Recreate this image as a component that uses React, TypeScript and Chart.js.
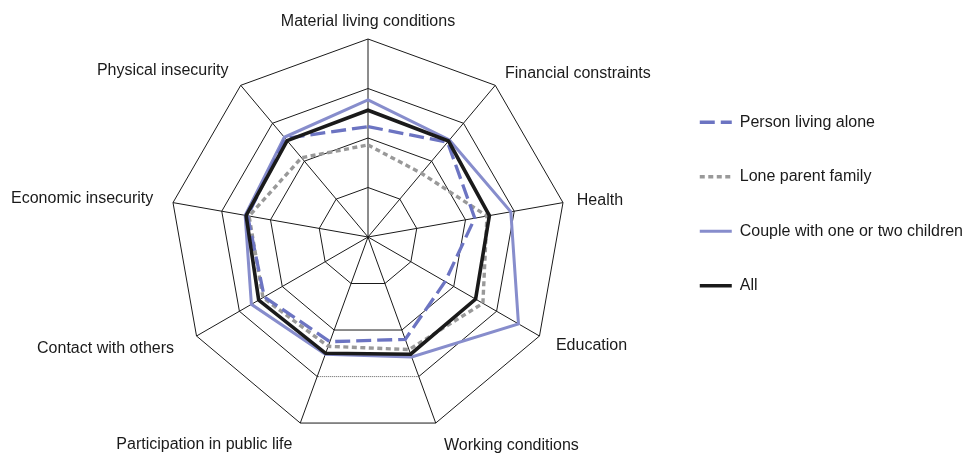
import React, { useEffect, useRef } from 'react';
import { Chart, registerables } from 'chart.js';

Chart.register(...registerables);

// ---- data ----
const categories = [
  'Material living conditions',
  'Financial constraints',
  'Health',
  'Education',
  'Working conditions',
  'Participation in public life',
  'Contact with others',
  'Economic insecurity',
  'Physical insecurity',
];
const seriesNames = ['Person living alone', 'Lone parent family', 'Couple with one or two children', 'All'];
const personAlone = [2.23, 2.5, 2.19, 1.8, 2.2, 2.25, 2.42, 2.47, 2.6];
const loneParent = [1.86, 1.68, 2.44, 2.68, 2.42, 2.35, 2.45, 2.44, 2.09];
const couple = [2.77, 2.56, 2.93, 3.51, 2.58, 2.52, 2.72, 2.52, 2.63];
const allHouseholds = [2.56, 2.53, 2.49, 2.51, 2.52, 2.5, 2.55, 2.5, 2.54];
const scaleMin = 0;
const scaleMax = 4;
const scaleStep = 1;

// ---- layout / style ----
const plotCenterX = 368;
const plotCenterY = 237;
const plotRadius = 198;
const labelPadding = [17, 15, 14, 19, 24, 23, 26, 20, 19];
const FONT = "'Liberation Sans', Arial, Helvetica, sans-serif";
const FONT_SIZE = 16;

export default function App() {
  const ref = useRef<HTMLCanvasElement>(null);

  useEffect(() => {
    if (!ref.current) return;

    const dottedRing = {
      id: 'dottedRing',
      beforeDatasetsDraw(chart: any) {
        const s = chart.scales.r;
        const a = s.getPointPositionForValue(4, 3);
        const b = s.getPointPositionForValue(5, 3);
        const ctx = chart.ctx;
        ctx.save();
        ctx.strokeStyle = '#ffffff';
        ctx.lineWidth = 2;
        ctx.beginPath();
        ctx.moveTo(a.x - 1, a.y);
        ctx.lineTo(b.x + 1, b.y);
        ctx.stroke();
        ctx.strokeStyle = '#666666';
        ctx.lineWidth = 1;
        ctx.setLineDash([1, 1]);
        ctx.beginPath();
        ctx.moveTo(a.x, a.y);
        ctx.lineTo(b.x, b.y);
        ctx.stroke();
        ctx.restore();
      },
    };

    const common = {
      fill: false,
      pointRadius: 0,
      pointHoverRadius: 0,
      backgroundColor: 'rgba(0,0,0,0)',
    };

    const chart = new Chart(ref.current, {
      type: 'radar',
      data: {
        labels: categories,
        datasets: [
          { ...common, label: seriesNames[0], data: personAlone, borderColor: '#6c74c2', borderWidth: 3.3, borderDash: [15, 6], order: 1 },
          { ...common, label: seriesNames[1], data: loneParent, borderColor: '#999999', borderWidth: 3.4, borderDash: [5, 3.5], order: 2 },
          { ...common, label: seriesNames[2], data: couple, borderColor: '#878dcc', borderWidth: 3, order: 3 },
          { ...common, label: seriesNames[3], data: allHouseholds, borderColor: '#1a1a1a', borderWidth: 3.6, order: 0 },
        ],
      },
      options: {
        animation: false,
        responsive: true,
        maintainAspectRatio: false,
        layout: { padding: { top: 0, bottom: 46, left: 0, right: -8 } },
        elements: { line: { tension: 0 } },
        datasets: { radar: { clip: false } } as any,
        scales: {
          r: {
            min: scaleMin,
            max: scaleMax,
            ticks: { display: false, stepSize: scaleStep },
            grid: { color: '#1a1a1a', lineWidth: 1 },
            angleLines: { color: '#1a1a1a', lineWidth: 1 },
            pointLabels: {
              color: '#1a1a1a',
              font: { family: FONT, size: FONT_SIZE, lineHeight: 0.01 },
              padding: (ctx: any) => labelPadding[ctx.index],
            },
            afterSetDimensions: (scale: any) => {
              scale.xCenter = plotCenterX;
              scale.yCenter = plotCenterY;
              scale.drawingArea = plotRadius;
              scale.left = -5000;
              scale.right = 5000;
              scale.top = -5000;
              scale.bottom = 5000;
            },
          } as any,
        },
        plugins: {
          tooltip: { enabled: false },
          legend: {
            position: 'right',
            align: 'center',
            labels: {
              usePointStyle: true,
              pointStyle: 'line',
              pointStyleWidth: 32,
              padding: 38.5,
              color: '#1a1a1a',
              font: { family: FONT, size: FONT_SIZE },
              generateLabels: (c: any) => {
                const items = Chart.defaults.plugins.legend.labels.generateLabels(c);
                return items.map((it: any) => {
                  const ds = c.data.datasets[it.datasetIndex];
                  return {
                    ...it,
                    pointStyle: 'line',
                    rotation: 180,
                    strokeStyle: ds.borderColor,
                    lineWidth: ds.borderWidth,
                    lineDash: ds.borderDash || [],
                    lineDashOffset: 0,
                  };
                });
              },
              sort: (a: any, b: any) => a.datasetIndex - b.datasetIndex,
            },
          },
        },
      },
      plugins: [dottedRing],
    });

    return () => chart.destroy();
  }, []);

  return (
    <div style={{ position: 'fixed', left: 0, top: 0, width: 965, height: 454, background: '#ffffff' }}>
      <canvas ref={ref} />
    </div>
  );
}
